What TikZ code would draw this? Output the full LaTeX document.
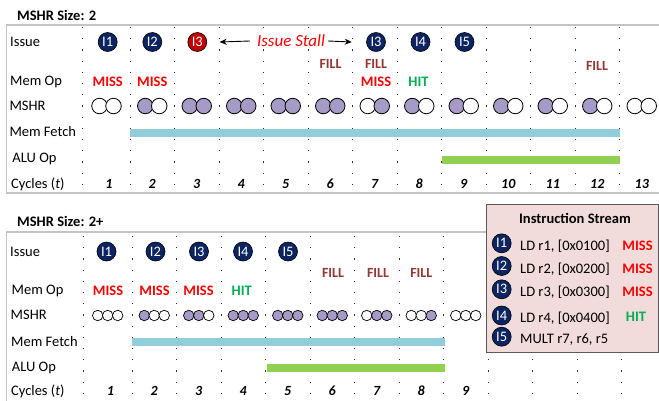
\documentclass[tikz,border=0pt]{standalone}
\usepackage{fontspec}
\setmainfont{Carlito}
\usetikzlibrary{arrows.meta}

\definecolor{navy}{HTML}{0C2461}
\definecolor{stallred}{HTML}{C00000}
\definecolor{missred}{HTML}{FF0000}
\definecolor{fillred}{HTML}{953735}
\definecolor{hitgreen}{HTML}{00B050}
\definecolor{lavender}{HTML}{A59BC6}
\definecolor{fetchblue}{HTML}{92CDDC}
\definecolor{alugreen}{HTML}{92D050}
\definecolor{panelgray}{HTML}{C4C4C4}
\definecolor{framegray}{HTML}{5A5A5A}
\definecolor{streampink}{HTML}{F2DCDB}

\tikzset{
  txtbox/.style={inner sep=0, text height=12.5pt, text depth=1.5pt},
  rowlbl/.style={txtbox, anchor=west, font=\fontsize{14.5}{17}\selectfont},
  ttl/.style={txtbox, anchor=west, font=\fontsize{14.5}{17}\selectfont\bfseries},
  cyc/.style={txtbox, font=\fontsize{14}{17}\selectfont\bfseries\itshape},
  misstxt/.style={txtbox, text=missred, font=\fontsize{14.5}{17}\selectfont\bfseries},
  hittxt/.style={misstxt, text=hitgreen},
  filltxt/.style={txtbox, text=fillred, font=\fontsize{14}{17}\selectfont\bfseries},
  iss/.style={circle, fill=navy, draw=black, line width=0.6pt, minimum size=19pt,
    inner sep=0, text=white, font=\fontsize{14.5}{15}\selectfont},
  stalled/.style={iss, fill=stallred},
  slot/.style={circle, draw=black, line width=0.8pt, inner sep=0, minimum size=15.5pt},
  slotsm/.style={slot, minimum size=10.5pt, line width=0.7pt},
  se/.style={fill=white},
  sf/.style={fill=lavender},
  gridline/.style={line width=1pt, draw=black!80, dash pattern=on 1.2pt off 10pt},
  panel/.style={draw=panelgray, line width=1.2pt},
  stallarrow/.style={draw=black, line width=0.9pt, -{Stealth[length=7pt,width=6pt]}},
  stalltxt/.style={txtbox, text=missred, font=\fontsize{17}{20}\selectfont\itshape},
  isframe/.style={draw=framegray, fill=streampink, line width=1.4pt, inner sep=0},
  instr/.style={txtbox, anchor=west, font=\fontsize{14.5}{17}\selectfont},
}

\begin{document}
\begin{tikzpicture}[x=1pt, y=-1pt]
\useasboundingbox (0,0) rectangle (659,400);

% ---------------- upper timeline: two MSHR entries ----------------
\node[ttl] (ttitle) at (17,15) {MSHR Size: 2};
\draw[panel] (659,25) -- (6.7,25) -- (6.7,193) -- (659,193);

% cycle separators
\draw[gridline] (82,27) -- (82,192);
\foreach \j in {0,...,11}
  \draw[gridline] ({130+44.5*\j},27) -- ({130+44.5*\j},192);

% row labels
\node[rowlbl] (tlIssue) at (10,41) {Issue};
\node[rowlbl] (tlMem)   at (10,80) {Mem Op};
\node[rowlbl] (tlMshr)  at (9.3,105) {MSHR};
\node[rowlbl] (tlFetch) at (9.3,131) {Mem Fetch};
\node[rowlbl] (tlAlu)   at (12.3,157) {ALU Op};
\node[rowlbl] (tlCyc)   at (11,183) {Cycles (\textit{t})};

% busy intervals
\fill[fetchblue] (130,129.3) rectangle (620,136.7);
\fill[alugreen]  (441.5,156) rectangle (620,164);

% issued instructions
\node[iss]     (tI1) at (107.7,42) {I1};
\node[iss]     (tI2) at (152.3,42) {I2};
\node[stalled] (tI3) at (197.3,42) {I3};
\node[iss]     (tI3b) at (376,42) {I3};
\node[iss]     (tI4) at (420.5,42) {I4};
\node[iss]     (tI5) at (464.5,42) {I5};
\node[stalltxt] (stall) at (291,41) {Issue Stall};
\draw[stallarrow] ([xshift=-7pt]stall.west) -- ([xshift=12.5pt]tI3.east);
\draw[stallarrow] ([xshift=3pt]stall.east) -- ([xshift=-14.5pt]tI3b.west);

% memory operations
\node[misstxt] (tm1) at (107.7,81) {MISS};
\node[misstxt] (tm2) at (152.3,81) {MISS};
\node[misstxt] (tm7) at (376,81) {MISS};
\node[hittxt]  (th8) at (418.5,81) {HIT};
\node[filltxt] (tf6) at (330.5,63) {FILL};
\node[filltxt] (tf7) at (376,63) {FILL};
\node[filltxt] (tf12) at (597,65) {FILL};

% MSHR occupancy
\foreach \k/\a/\b in {1/e/e,2/f/e,3/f/f,4/f/f,5/f/f,6/f/f,7/e/f,8/f/e,9/f/e,10/f/e,11/f/e,12/f/e,13/e/e}{
  \pgfmathsetmacro\cx{\k==1 ? 106.5 : 152.25+44.5*(\k-2)}
  \node[slot,s\a] (tsA\k) at (\cx-7,106) {};
  \node[slot,s\b] (tsB\k) at (\cx+7,106) {};
}

% cycle numbers
\foreach \k in {1,...,13}{
  \pgfmathsetmacro\cx{\k==1 ? 109 : 152.25+44.5*(\k-2)}
  \node[cyc] (tc\k) at (\cx,183) {\k};
}

% ---------------- lower timeline: more MSHR entries ----------------
\node[ttl] (btitle) at (17,221) {MSHR Size: 2+};
\draw[panel] (659,232) -- (6.7,232) -- (6.7,401);

\draw[gridline] (83,236) -- (83,400);
\foreach \j in {0,...,11}
  \draw[gridline] ({132+44.5*\j},236) -- ({132+44.5*\j},400);

\node[rowlbl] (blIssue) at (10,251) {Issue};
\node[rowlbl] (blMem)   at (11.5,289) {Mem Op};
\node[rowlbl] (blMshr)  at (10.5,314) {MSHR};
\node[rowlbl] (blFetch) at (11,340.5) {Mem Fetch};
\node[rowlbl] (blAlu)   at (11.7,365.5) {ALU Op};
\node[rowlbl] (blCyc)   at (11,389.8) {Cycles (\textit{t})};

\fill[fetchblue] (132,337.7) rectangle (444.5,345.7);
\fill[alugreen]  (266.5,363.5) rectangle (444.5,371.5);

\node[iss] (bI1) at (106.5,251.5) {I1};
\node[iss] (bI2) at (155.5,251.5) {I2};
\node[iss] (bI3) at (199,251.5) {I3};
\node[iss] (bI4) at (243,251.5) {I4};
\node[iss] (bI5) at (288,251.5) {I5};

\node[misstxt] (bm1) at (108,290) {MISS};
\node[misstxt] (bm2) at (154.5,290) {MISS};
\node[misstxt] (bm3) at (198.5,290) {MISS};
\node[hittxt]  (bh4) at (241.7,290) {HIT};
\node[filltxt] (bf6) at (333,272) {FILL};
\node[filltxt] (bf7) at (378,272) {FILL};
\node[filltxt] (bf8) at (421.3,272) {FILL};

\foreach \k/\a/\b/\c in {1/e/e/e,2/f/e/e,3/f/f/e,4/f/f/f,5/f/f/f,6/f/f/f,7/e/f/f,8/e/e/f,9/e/e/e}{
  \pgfmathsetmacro\cx{\k==1 ? 107.7 : 154.25+44.5*(\k-2)}
  \node[slotsm,s\a] (bsA\k) at (\cx-10,315.5) {};
  \node[slotsm,s\b] (bsB\k) at (\cx,315.5) {};
  \node[slotsm,s\c] (bsC\k) at (\cx+10,315.5) {};
}

\foreach \k in {1,...,9}{
  \pgfmathsetmacro\cx{\k==1 ? 110.5 : 154.25+44.5*(\k-2)}
  \node[cyc] (bc\k) at (\cx,390) {\k};
}

% ---------------- instruction stream legend ----------------
\node[isframe, anchor=north west, minimum width=171.5pt, minimum height=148pt]
  (stream) at (486,204) {};
\node[txtbox, font=\fontsize{14.5}{17}\selectfont\bfseries] (streamtitle)
  at (575,218.3) {Instruction Stream};
\foreach \i/\y/\txt in {1/243.3/{LD r1, [0x0100]},2/266/{LD r2, [0x0200]},
    3/289.3/{LD r3, [0x0300]},4/315.5/{LD r4, [0x0400]},5/336.7/{MULT r7, r6, r5}}{
  \node[iss] (sI\i) at (501.7,\y) {I\i};
  \node[instr] (sT\i) at (520,\y+1.5) {\txt};
}
\node[misstxt] (sm1) at (637.5,244.8) {MISS};
\node[misstxt] (sm2) at (637.5,267.5) {MISS};
\node[misstxt] (sm3) at (637.5,290.8) {MISS};
\node[hittxt]  (sh4) at (636,316) {HIT};

\end{tikzpicture}
\end{document}
